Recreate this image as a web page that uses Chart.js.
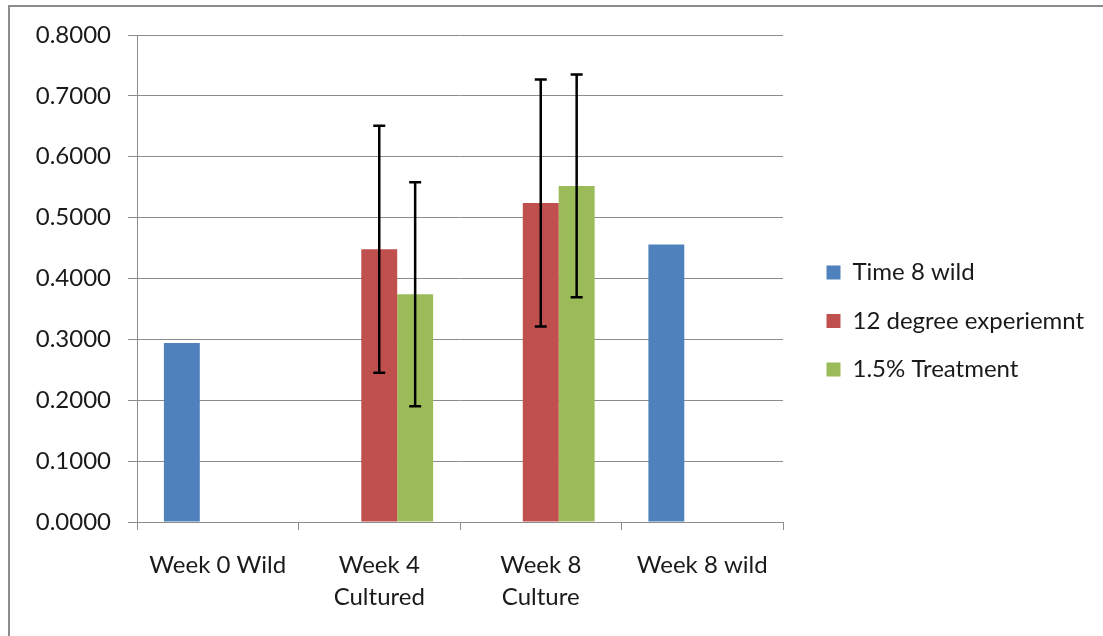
<!DOCTYPE html>
<html>
<head>
<meta charset="utf-8">
<script src="https://cdn.jsdelivr.net/npm/chart.js@4"></script>
<style>
  html, body { margin: 0; padding: 0; background: #fff; }
  #wrap { position: relative; width: 1103px; height: 636px; overflow: hidden; }
  #frame {
    position: absolute; left: 8px; top: 5px; width: 1200px; height: 700px;
    border-top: 2px solid #8c8c8c; border-left: 2px solid #8c8c8c;
  }
  #chart { position: absolute; left: 0; top: 0; }
</style>
</head>
<body>
<div id="wrap">
  <div id="frame"></div>
  <canvas id="chart" width="1103" height="636"></canvas>
</div>
<script>
// categories and series
const categories = ['Week 0 Wild', ['Week 4', 'Cultured'], ['Week 8', 'Culture'], 'Week 8 wild'];
const seriesNames = ['Time 8 wild', '12 degree experiemnt', '1.5% Treatment'];
const wildValues = [0.294, null, null, 0.456];
const degreeValues = [null, 0.448, 0.524, null];
const treatmentValues = [null, 0.374, 0.552, null];
const degreeErrors = [null, 0.203, 0.203, null];
const treatmentErrors = [null, 0.184, 0.183, null];
const yTicks = [0, 0.1, 0.2, 0.3, 0.4, 0.5, 0.6, 0.7, 0.8];

const textColor = '#1a1a1a';
const gridColor = '#8c8c8c';
const fontFamily = 'Lato, "Open Sans", sans-serif';

// symmetric error bars, drawn through the y scale
const errorBars = {
    id: 'errorBars',
    afterDatasetsDraw(chart) {
        const ctx = chart.ctx;
        const yScale = chart.scales.y;
        chart.data.datasets.forEach((ds, i) => {
            if (!ds.errors) return;
            const meta = chart.getDatasetMeta(i);
            ds.errors.forEach((err, j) => {
                const v = ds.data[j];
                if (err == null || v == null) return;
                const x = meta.data[j].x;
                const top = yScale.getPixelForValue(v + err);
                const bottom = yScale.getPixelForValue(v - err);
                ctx.save();
                ctx.strokeStyle = '#000';
                ctx.lineWidth = 2.5;
                ctx.beginPath();
                ctx.moveTo(x, top);
                ctx.lineTo(x, bottom);
                ctx.moveTo(x - 6, top);
                ctx.lineTo(x + 6, top);
                ctx.moveTo(x - 6, bottom);
                ctx.lineTo(x + 6, bottom);
                ctx.stroke();
                ctx.restore();
            });
        });
    }
};

// keep the legend to a fixed width and nudge it away from the plot
const legendPlace = {
    id: 'legendPlace',
    beforeInit(chart) {
        const fit = chart.legend.fit;
        chart.legend.fit = function () {
            fit.call(this);
            this.width = 320;
        };
    },
    afterLayout(chart) {
        chart.legend.left += 19;
        chart.legend.right += 19;
    }
};

new Chart(document.getElementById('chart'), {
    type: 'bar',
    data: {
        labels: categories,
        datasets: [
            { label: seriesNames[0], data: wildValues, backgroundColor: '#4f81bd' },
            { label: seriesNames[1], data: degreeValues, backgroundColor: '#c0504d', errors: degreeErrors },
            { label: seriesNames[2], data: treatmentValues, backgroundColor: '#9bbb59', errors: treatmentErrors }
        ]
    },
    options: {
        responsive: false,
        animation: false,
        events: [],
        categoryPercentage: 0.667,
        barPercentage: 1.0,
        layout: { padding: { top: 35, left: 0, right: 0, bottom: 29 } },
        plugins: {
            tooltip: { enabled: false },
            legend: {
                position: 'right',
                labels: {
                    color: textColor,
                    font: { family: fontFamily, size: 24 },
                    boxWidth: 14,
                    boxHeight: 14,
                    padding: 24.5
                }
            }
        },
        scales: {
            x: {
                grid: { drawOnChartArea: false, drawTicks: true, tickLength: 8, color: gridColor },
                border: { display: true, color: gridColor, width: 1 },
                ticks: {
                    color: textColor,
                    padding: 19,
                    maxRotation: 0,
                    autoSkip: false,
                    font: { family: fontFamily, size: 24, lineHeight: 1.333 }
                },
                afterFit(scale) { scale.height = 85; }
            },
            y: {
                min: 0,
                max: 0.8,
                afterBuildTicks(scale) { scale.ticks = yTicks.map(v => ({ value: v })); },
                grid: { color: gridColor, lineWidth: 1, tickLength: 9 },
                border: { display: true, color: gridColor, width: 1 },
                ticks: {
                    color: textColor,
                    padding: 17,
                    font: { family: fontFamily, size: 24 },
                    callback: v => Number(v).toFixed(4)
                },
                afterFit(scale) { scale.width = 137; }
            }
        }
    },
    plugins: [errorBars, legendPlace]
});
</script>
</body>
</html>
